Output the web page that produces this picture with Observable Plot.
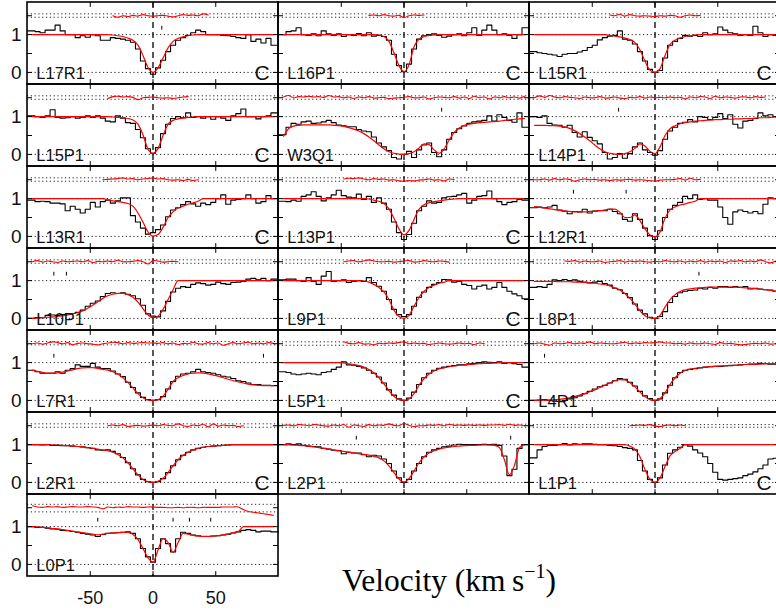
<!DOCTYPE html>
<html><head><meta charset="utf-8">
<script src="https://cdn.jsdelivr.net/npm/d3@7"></script>
<script src="https://cdn.jsdelivr.net/npm/@observablehq/plot@0.6"></script>
<style>
html,body{margin:0;padding:0;background:#fff;overflow:hidden;}
#wrap{position:relative;width:776px;height:612px;overflow:hidden;}
#xlabel{position:absolute;left:342px;top:563px;font-family:"Liberation Serif","DejaVu Serif",serif;font-size:31.5px;color:#000;white-space:nowrap;line-height:36px;}
#xlabel sup{font-size:20px;vertical-align:baseline;position:relative;top:-13px;}
</style></head>
<body><div id="wrap"><div id="chart"></div><div id="xlabel">Velocity (km&#8201;s<sup>−1</sup>)</div></div>
<script>
// ---------- panel layout & labels ----------
const panelNames = ["L17R1","L16P1","L15R1","L15P1","W3Q1","L14P1","L13R1","L13P1","L12R1","L10P1","L9P1","L8P1","L7R1","L5P1","L4R1","L2R1","L2P1","L1P1","L0P1"];
const panelHasC  = [1,1,1, 1,0,0, 1,1,0, 0,1,0, 0,1,0, 1,0,1, 0];
const velocityGrid = [-96,-92,-88,-84,-80,-76,-72,-68,-64,-60,-56,-52,-48,-44,-40,-36,-32,-28,-24,-20,-16,-12,-8,-4,0,4,8,12,16,20,24,28,32,36,40,44,48,52,56,60,64,68,72,76,80,84,88,92,96];
const xTickValues = [-50, 0, 50];
const xTickLabels = ["-50", "0", "50"];
const yTickValues = [0, 0.5, 1, 1.5];
const yTickLabelValues = [0, 1];
const yTickLabels = ["0", "1"];

// ---------- observed flux (black histogram) ----------
const flux_L17R1 = [1.10,1.08,1.05,1.12,1.12,1.25,1.10,1.00,1.00,0.92,0.97,0.93,1.00,0.97,0.85,0.85,0.92,0.90,0.88,0.85,0.80,0.62,0.30,0.10,-0.05,0.12,0.32,0.55,0.72,0.85,0.92,0.98,1.05,1.12,1.08,1.0,1.0,1.0,0.98,0.97,0.95,0.92,0.90,1.0,0.82,0.88,0.78,0.9,0.72];
const flux_L16P1 = [1.0,1.08,1.10,1.18,1.0,0.98,1.02,0.97,1.10,1.02,0.98,1.02,0.95,1.0,0.98,1.03,0.97,1.05,0.96,0.98,0.95,0.85,0.48,0.18,0.02,0.22,0.62,0.88,0.97,1.0,1.02,0.98,0.93,0.96,1.0,1.02,0.97,1.05,1.18,0.98,1.12,1.25,1.12,1.0,1.02,0.98,0.9,1.0,1.18];
const flux_L15R1 = [0.55,0.52,0.50,0.48,0.46,0.42,0.48,0.50,0.50,0.54,0.58,0.66,0.72,0.86,0.92,0.96,0.98,1.10,0.88,0.85,0.75,0.55,0.3,0.08,0.0,0.05,0.38,0.72,0.82,0.9,0.98,0.96,0.98,0.95,1.05,1.0,1.02,1.2,1.12,1.05,1.02,0.98,1.0,0.98,1.22,1.05,0.95,1.0,0.98];
const flux_L15P1 = [1.02,1.0,0.98,1.02,1.18,0.98,0.96,0.97,1.0,0.96,0.98,1.02,0.98,1.02,0.96,0.88,0.86,1.02,0.96,0.84,0.82,0.66,0.44,0.15,0.03,0.18,0.55,0.8,0.95,1.0,0.97,1.1,0.98,1.0,0.96,1.0,0.93,1.0,0.96,0.9,1.02,1.08,1.2,1.0,1.0,0.94,1.0,1.02,1.1];
const flux_W3Q1  = [0.52,0.72,0.82,0.8,0.86,0.88,0.82,0.83,0.86,0.9,0.84,0.78,0.76,0.73,0.73,0.66,0.62,0.6,0.46,0.3,0.2,0.1,-0.08,-0.12,0.0,0.08,-0.08,0.12,0.25,0.3,0.05,-0.06,0.12,0.4,0.58,0.68,0.75,0.82,0.86,0.88,0.9,1.02,0.88,1.05,0.98,0.9,0.85,1.1,0.72];
const flux_L14P1 = [1.0,0.98,1.02,0.82,0.78,0.77,0.72,0.77,0.58,0.46,0.6,0.45,0.36,0.28,0.05,-0.12,-0.08,0.02,-0.1,0.02,0.2,0.3,0.12,0.05,-0.02,0.1,0.4,0.62,0.72,0.82,0.85,0.92,0.86,1.0,0.98,0.92,0.98,1.08,0.95,1.05,0.8,0.7,0.88,0.9,0.95,1.1,1.02,1.05,1.0];
const flux_L13R1 = [0.96,0.92,0.93,0.92,0.88,0.88,0.86,0.68,0.8,0.72,0.62,0.72,0.9,0.78,0.92,0.96,0.88,0.94,1.02,1.02,0.55,0.38,0.22,0.06,0.1,0.18,0.3,0.52,0.7,0.76,0.84,0.92,0.86,0.8,0.88,0.84,0.9,1.0,1.1,0.85,0.96,0.98,1.0,1.1,1.0,0.88,0.92,1.08,1.0];
const flux_L13P1 = [0.93,0.92,0.96,0.93,1.06,1.1,1.18,1.06,0.94,1.02,1.1,1.22,1.08,1.04,1.02,1.12,0.98,1.06,0.9,1.02,0.88,0.72,0.38,0.1,-0.08,0.05,0.35,0.68,0.8,0.94,0.88,0.9,1.02,1.05,1.06,1.1,1.14,0.88,0.96,1.06,1.08,1.2,1.0,0.92,0.84,0.9,0.92,0.98,0.96];
const flux_L12R1 = [0.76,0.78,0.76,0.78,0.82,0.7,0.67,0.6,0.66,0.65,0.72,0.62,0.67,0.68,0.68,0.72,0.66,0.6,0.45,0.4,0.6,0.45,0.22,0.02,-0.08,0.15,0.5,0.72,0.82,0.9,1.06,1.0,1.1,0.98,1.0,0.96,0.96,0.78,0.5,0.32,0.65,0.7,0.66,0.62,0.66,0.6,0.85,1.02,1.0];
const flux_L10P1 = [0.0,0.02,0.02,0.08,0.09,0.08,0.1,0.12,0.13,0.16,0.22,0.32,0.4,0.46,0.58,0.66,0.68,0.66,0.68,0.64,0.6,0.52,0.35,0.12,0.06,0.04,0.2,0.45,0.7,0.8,0.84,0.82,0.9,0.94,0.92,0.88,0.9,0.96,0.92,0.9,0.95,0.96,0.98,1.04,1.06,1.02,1.06,1.0,1.04];
const flux_L9P1  = [1.02,1.04,1.04,1.0,0.98,1.08,0.98,0.9,1.12,1.24,0.98,1.0,1.02,0.95,0.98,1.0,0.98,1.08,0.95,0.85,0.72,0.5,0.24,0.1,0.05,0.1,0.32,0.56,0.7,0.82,0.9,0.95,1.03,1.02,0.96,0.98,0.9,0.87,0.78,0.85,0.88,0.78,0.82,0.95,0.82,0.72,0.65,0.6,0.52];
const flux_L8P1  = [0.82,0.84,0.82,0.9,1.02,1.0,1.03,1.0,1.02,0.98,0.96,0.94,0.96,0.98,0.92,0.88,0.8,0.76,0.66,0.55,0.38,0.22,0.12,0.03,0.0,0.05,0.18,0.42,0.58,0.68,0.72,0.74,0.75,0.8,0.78,0.82,0.8,0.84,0.84,0.82,0.84,0.82,0.84,0.78,0.8,0.78,0.76,0.75,0.72];
const flux_L7R1  = [0.8,0.76,0.72,0.72,0.72,0.76,0.72,0.8,0.84,0.94,0.9,0.9,0.98,0.88,0.84,0.84,0.78,0.7,0.63,0.48,0.34,0.2,0.08,0.02,0.0,0.02,0.1,0.3,0.5,0.64,0.7,0.72,0.76,0.82,0.76,0.74,0.72,0.68,0.64,0.62,0.58,0.52,0.5,0.46,0.42,0.42,0.4,0.4,0.39];
const flux_L5P1  = [0.76,0.74,0.7,0.68,0.7,0.72,0.7,0.68,0.74,0.76,0.82,0.88,1.02,0.94,0.93,0.9,0.86,0.8,0.72,0.62,0.46,0.28,0.14,0.04,0.0,0.06,0.22,0.42,0.6,0.72,0.8,0.85,0.88,0.9,0.92,0.94,0.94,0.97,0.98,1.0,1.02,1.01,1.0,1.02,0.98,1.0,0.97,0.95,0.88];
const flux_L4R1  = [0.0,0.01,0.02,0.0,-0.02,-0.03,0.0,0.04,0.07,0.12,0.18,0.24,0.3,0.36,0.4,0.46,0.52,0.58,0.56,0.48,0.38,0.24,0.12,0.05,0.0,0.04,0.2,0.4,0.6,0.74,0.8,0.82,0.84,0.86,0.88,0.89,0.9,0.9,0.91,0.92,0.93,0.94,0.95,0.96,0.96,0.98,0.97,0.96,0.96];
const flux_L2R1  = [1.0,1.0,0.99,1.0,0.98,0.98,0.97,0.97,0.96,0.95,0.94,0.92,0.9,0.86,0.85,0.86,0.82,0.76,0.66,0.52,0.36,0.2,0.08,0.02,0.0,0.02,0.1,0.26,0.44,0.6,0.72,0.8,0.86,0.9,0.93,0.95,0.96,0.97,0.98,0.99,1.0,1.0,1.0,1.0,1.0,1.0,1.0,1.0,1.0];
const flux_L2P1  = [1.0,1.02,1.0,1.02,0.98,0.96,0.95,0.94,0.9,0.88,0.85,0.84,0.76,0.8,0.78,0.78,0.73,0.68,0.72,0.7,0.62,0.5,0.3,0.12,0.0,0.08,0.3,0.5,0.68,0.8,0.86,0.9,0.94,0.96,0.99,1.01,1.0,1.0,1.0,1.0,1.01,1.0,1.01,0.98,0.7,0.18,0.35,0.9,1.0];
const flux_L1P1  = [0.65,0.86,0.95,0.98,0.98,1.0,1.03,0.99,1.02,1.01,1.02,1.02,1.01,1.0,1.0,0.98,0.97,0.95,0.92,0.9,0.86,0.58,0.3,0.08,0.0,0.12,0.46,0.77,0.86,0.93,1.0,0.96,0.86,0.78,0.68,0.5,0.27,0.08,0.06,0.08,0.1,0.12,0.18,0.22,0.28,0.36,0.46,0.62,0.64];
const flux_L0P1  = [1.0,0.98,0.98,0.96,0.94,0.93,0.9,0.89,0.87,0.85,0.82,0.8,0.78,0.74,0.79,0.82,0.83,0.84,0.85,0.86,0.82,0.68,0.42,0.2,0.06,0.42,0.68,0.55,0.33,0.68,0.85,0.82,0.78,0.76,0.74,0.74,0.75,0.76,0.78,0.8,0.83,0.86,0.9,0.92,0.9,0.86,0.88,0.88,0.86];

// ---------- fitted model (red) ----------
const model_L17R1 = [1,1,1,1,1,1,1,1,1,1,1,1,1,1,1,1,0.99,0.97,0.95,0.91,0.85,0.72,0.45,0.13,0,0.12,0.38,0.65,0.82,0.9,0.94,0.97,0.99,1,1,1,1,1,1,1,1,1,1,1,1,1,1,1,1];
const model_L16P1 = [1,1,1,1,1,1,1,1,1,1,1,1,1,1,1,1,1,1,1,0.99,0.95,0.82,0.52,0.18,0.02,0.2,0.68,0.88,0.95,0.98,0.99,1,1,1,1,1,1,1,1,1,1,1,1,1,1,1,1,1,1];
const model_L15R1 = [1,1,1,1,1,1,1,1,1,1,1,1,1,1,1,0.98,0.96,0.94,0.91,0.87,0.79,0.6,0.3,0.06,0,0.1,0.45,0.74,0.85,0.91,0.95,0.97,0.99,1,1,1,1,1,1,1,1,1,1,1,1,1,1,1,1];
const model_L15P1 = [1,1,1,1,1,1,1,1,1,1,1,1,1,1,1,1,0.99,0.98,0.97,0.95,0.91,0.8,0.52,0.14,0.03,0.16,0.5,0.8,0.9,0.94,0.96,0.98,0.99,1,1,1,1,1,1,1,1,1,1,1,1,1,1,1,1];
const model_W3Q1  = [0.48,0.68,0.75,0.77,0.78,0.78,0.78,0.78,0.78,0.78,0.77,0.76,0.74,0.71,0.67,0.62,0.55,0.46,0.36,0.25,0.15,0.07,0.03,0.01,0,0.02,0.07,0.17,0.28,0.26,0.12,0.03,0.15,0.38,0.58,0.7,0.77,0.8,0.82,0.84,0.85,0.86,0.87,0.88,0.9,0.91,0.93,0.94,0.95];
const model_L14P1 = [0.77,0.77,0.77,0.76,0.76,0.75,0.73,0.69,0.63,0.55,0.46,0.36,0.25,0.15,0.07,0.03,0.01,0,0.02,0.07,0.16,0.28,0.22,0.08,0.02,0.2,0.5,0.68,0.76,0.81,0.84,0.86,0.88,0.89,0.9,0.91,0.92,0.92,0.93,0.93,0.94,0.94,0.95,0.95,0.96,0.97,0.97,0.98,0.99];
const model_L13R1 = [1,1,1,1,1,1,1,1,1,1,1,1,1,1,1,0.97,0.94,0.92,0.9,0.87,0.8,0.62,0.38,0.12,0.01,0.05,0.24,0.5,0.65,0.75,0.8,0.85,0.89,0.93,1,1,1,1,1,1,1,1,1,1,1,1,1,1,1];
const model_L13P1 = [1,1,1,1,1,1,1,1,1,1,1,1,1,1,1,1,1,0.99,0.96,0.93,0.87,0.73,0.48,0.2,0.04,0.16,0.45,0.72,0.84,0.89,0.92,0.94,0.96,0.98,0.99,1,1,1,1,1,1,1,1,1,1,1,1,1,1];
const model_L12R1 = [0.79,0.77,0.75,0.73,0.71,0.69,0.67,0.66,0.65,0.65,0.65,0.66,0.67,0.68,0.7,0.72,0.72,0.64,0.5,0.5,0.57,0.42,0.2,0.04,-0.01,0.12,0.48,0.7,0.78,0.83,0.86,0.9,0.93,1,1,1,1,1,1,1,1,1,1,1,1,1,1,1,1];
const model_L10P1 = [0,0.01,0.02,0.03,0.04,0.05,0.07,0.09,0.12,0.15,0.2,0.27,0.35,0.44,0.53,0.6,0.64,0.66,0.66,0.63,0.56,0.43,0.26,0.09,0.02,0.06,0.24,0.5,0.76,1,1,1,1,1,1,1,1,1,1,1,1,1,1,1,1,1,1,1,1];
const model_L9P1  = [1,1,1,1,1,1,1,1,1,1,1,1,1,1,1,1,0.99,0.96,0.9,0.82,0.7,0.5,0.22,0.05,0,0.08,0.32,0.56,0.72,0.82,0.88,0.93,0.96,1,1,1,1,1,1,1,1,1,1,1,1,1,1,1,1];
const model_L8P1  = [0.98,0.98,0.98,0.98,0.98,0.97,0.97,0.97,0.96,0.96,0.95,0.94,0.93,0.91,0.89,0.86,0.81,0.75,0.66,0.53,0.38,0.2,0.07,0.01,0,0.08,0.3,0.5,0.63,0.71,0.76,0.78,0.8,0.81,0.82,0.83,0.83,0.83,0.83,0.83,0.83,0.82,0.81,0.8,0.79,0.77,0.76,0.74,0.72];
const model_L7R1  = [0.8,0.77,0.74,0.72,0.72,0.73,0.75,0.78,0.81,0.84,0.86,0.87,0.87,0.85,0.82,0.8,0.76,0.7,0.6,0.47,0.33,0.18,0.07,0.01,0,0.02,0.11,0.3,0.5,0.6,0.66,0.7,0.72,0.73,0.72,0.7,0.67,0.64,0.6,0.56,0.52,0.49,0.46,0.43,0.41,0.4,0.39,0.39,0.39];
const model_L5P1  = [1,1,1,1,1,1,1,1,1,1,1,1,0.99,0.97,0.95,0.92,0.88,0.82,0.73,0.6,0.44,0.26,0.11,0.02,0,0.04,0.18,0.4,0.58,0.7,0.78,0.83,0.86,0.89,0.91,0.93,0.94,0.95,0.96,0.97,0.98,0.98,0.99,0.99,1,1,1,1,1];
const model_L4R1  = [0,0,0.01,0.01,0.02,0.03,0.05,0.07,0.1,0.14,0.18,0.23,0.28,0.34,0.4,0.46,0.52,0.55,0.54,0.47,0.36,0.22,0.1,0.02,0,0.05,0.2,0.42,0.6,0.72,0.79,0.83,0.85,0.87,0.88,0.89,0.9,0.91,0.92,0.93,0.93,0.94,0.95,0.95,0.96,0.96,0.97,0.97,0.97];
const model_L2R1  = [1,1,1,1,0.99,0.99,0.98,0.97,0.96,0.95,0.94,0.92,0.9,0.88,0.86,0.84,0.8,0.74,0.65,0.52,0.36,0.2,0.08,0.02,0,0.03,0.11,0.26,0.44,0.6,0.72,0.8,0.86,0.9,0.93,0.95,0.96,0.97,0.98,0.99,1,1,1,1,1,1,1,1,1];
const model_L2P1  = [1,0.99,0.99,0.98,0.97,0.96,0.94,0.92,0.9,0.88,0.86,0.84,0.82,0.8,0.78,0.76,0.74,0.72,0.69,0.65,0.57,0.44,0.26,0.09,0.01,0.1,0.3,0.52,0.68,0.78,0.84,0.88,0.91,0.93,0.95,0.96,0.97,0.98,0.98,0.99,0.99,0.99,0.98,0.92,0.6,0.2,0.45,0.92,1];
const model_L1P1  = [1,1,1,1,1,1,1,1,1,1,1,1,1,1,1,1,1,1,1,0.96,0.88,0.68,0.34,0.08,0,0.12,0.42,0.7,0.82,0.9,1,1,1,1,1,1,1,1,1,1,1,1,1,1,1,1,1,1,1];
const model_L0P1  = [1,0.99,0.98,0.97,0.95,0.94,0.92,0.9,0.88,0.86,0.84,0.82,0.8,0.78,0.8,0.82,0.83,0.84,0.85,0.85,0.8,0.66,0.42,0.18,0.06,0.38,0.68,0.58,0.32,0.58,0.82,0.8,0.77,0.75,0.74,0.74,0.75,0.76,0.78,0.81,0.84,0.87,1,1,1,1,1,1,1];

// ---------- residuals (red, offset to 1.5), 4 km/s spacing from residStart ----------
const residStart = [-32,-28,-36,-36,-96,-96,-40,-48,-96,-96,-48,-72,-96,-48,-96,-36,-96,-20,-96];
const resid_L17R1 = [1.5,1.46,1.5,1.48,1.51,1.49,1.53,1.5,1.49,1.5,1.51,1.49,1.47,1.5,1.53,1.51,1.52,1.5,1.55,1.52];
const resid_L16P1 = [1.51,1.52,1.5,1.53,1.5,1.49,1.51,1.45,1.5,1.52,1.51,1.52];
const resid_L15R1 = [1.52,1.5,1.54,1.49,1.53,1.5,1.49,1.5,1.49,1.48,1.5,1.49,1.51,1.5,1.46,1.5,1.52,1.5,1.51];
const resid_L15P1 = [1.48,1.53,1.54,1.52,1.53,1.51,1.45,1.5,1.51,1.52,1.5,1.49,1.5,1.48,1.5,1.52,1.53];
const resid_W3Q1  = [1.52,1.56,1.5,1.53,1.52,1.54,1.52,1.53,1.51,1.56,1.52,1.53,1.5,1.52,1.48,1.52,1.5,1.53,1.49,1.5,1.51,1.48,1.49,1.5,1.51,1.53,1.5,1.5,1.52,1.47,1.5,1.52,1.51,1.5,1.53,1.49,1.52,1.48,1.54,1.5,1.52,1.47,1.52,1.5,1.53,1.5,1.52,1.49,1.54];
const resid_L14P1 = [1.5,1.55,1.51,1.56,1.52,1.5,1.53,1.51,1.5,1.48,1.52,1.5,1.5,1.53,1.49,1.5,1.52,1.49,1.48,1.51,1.5,1.53,1.49,1.52,1.5,1.51,1.5,1.52,1.5,1.51,1.47,1.52,1.5,1.53,1.52,1.48,1.54,1.5,1.52,1.51,1.49,1.52,1.52,1.5,1.53,1.51,1.52];
const resid_L13R1 = [1.5,1.51,1.52,1.53,1.55,1.52,1.53,1.5,1.52,1.53,1.55,1.52,1.53,1.5,1.49,1.5,1.48,1.51,1.48,1.5];
const resid_L13P1 = [1.52,1.54,1.53,1.55,1.52,1.5,1.53,1.51,1.52,1.49,1.5,1.47,1.46,1.48,1.47,1.49,1.5,1.52,1.49,1.5,1.47,1.52,1.5];
const resid_L12R1 = [1.5,1.5,1.52,1.49,1.53,1.5,1.52,1.51,1.46,1.5,1.52,1.5,1.51,1.49,1.5,1.48,1.5,1.49,1.5,1.51,1.49,1.5,1.49,1.48,1.46,1.49,1.5,1.5,1.51,1.53,1.49,1.54,1.5,1.51];
const resid_L10P1 = [1.5,1.53,1.49,1.52,1.5,1.48,1.52,1.5,1.51,1.52,1.5,1.53,1.48,1.51,1.5,1.52,1.5,1.54,1.5,1.5,1.51,1.53,1.5,1.44,1.53,1.52,1.49,1.5,1.51,1.5];
const resid_L9P1  = [1.5,1.52,1.53,1.5,1.52,1.55,1.52,1.5,1.5,1.51,1.49,1.5,1.52,1.53,1.49,1.5,1.53,1.51,1.5,1.52,1.51,1.49];
const resid_L8P1  = [1.52,1.51,1.53,1.49,1.52,1.5,1.5,1.52,1.48,1.5,1.51,1.53,1.49,1.52,1.5,1.52,1.5,1.49,1.51,1.5,1.53,1.51,1.5,1.52,1.49,1.52,1.5,1.53,1.49,1.52,1.5,1.52,1.48,1.52,1.51,1.53,1.5,1.52,1.5,1.55,1.5,1.47,1.52];
const resid_L7R1  = [1.5,1.52,1.49,1.52,1.55,1.53,1.5,1.53,1.47,1.51,1.52,1.5,1.49,1.47,1.5,1.52,1.54,1.53,1.5,1.53,1.51,1.52,1.53,1.52,1.52,1.51,1.53,1.5,1.52,1.48,1.51,1.5,1.54,1.5,1.49,1.53,1.5,1.52,1.46,1.5,1.53,1.5,1.52,1.54,1.5,1.52,1.5,1.53,1.51];
const resid_L5P1  = [1.55,1.51,1.5,1.53,1.49,1.5,1.47,1.51,1.5,1.52,1.51,1.53,1.55,1.5,1.52,1.5,1.51,1.48,1.5,1.52,1.5,1.49,1.5,1.52,1.5,1.51,1.48,1.52,1.5];
const resid_L4R1  = [1.5,1.52,1.49,1.46,1.52,1.5,1.51,1.53,1.5,1.52,1.51,1.55,1.5,1.52,1.51,1.5,1.5,1.52,1.54,1.5,1.52,1.51,1.53,1.52,1.53,1.55,1.52,1.52,1.5,1.51,1.49,1.52,1.5,1.5,1.52,1.5,1.48,1.53,1.5,1.51,1.49,1.47,1.48,1.5,1.51,1.5,1.52,1.49,1.5];
const resid_L2R1  = [1.5,1.52,1.5,1.53,1.48,1.5,1.51,1.49,1.5,1.52,1.5,1.53,1.51,1.5,1.55,1.5,1.48,1.52,1.5,1.54,1.47,1.55,1.49,1.52,1.5,1.51,1.48,1.5];
const resid_L2P1  = [1.51,1.52,1.5,1.53,1.52,1.5,1.53,1.52,1.5,1.49,1.52,1.5,1.53,1.46,1.52,1.5,1.48,1.53,1.5,1.52,1.51,1.55,1.51,1.5,1.56,1.51,1.48,1.5,1.5,1.52,1.51,1.53,1.5,1.54,1.51,1.52,1.51,1.52,1.51,1.52,1.51,1.52,1.52,1.53,1.51,1.54,1.51,1.52,1.5];
const resid_L1P1  = [1.5,1.51,1.52,1.51,1.53,1.49,1.48,1.51,1.52,1.5,1.52,1.5];
const resid_L0P1  = [1.55,1.52,1.51,1.53,1.52,1.53,1.51,1.52,1.53,1.52,1.52,1.53,1.52,1.51,1.47,1.52,1.5,1.52,1.51,1.53,1.52,1.52,1.51,1.52,1.52,1.51,1.51,1.5,1.5,1.51,1.5,1.51,1.51,1.5,1.51,1.51,1.51,1.51,1.52,1.52,1.52,1.52,1.45,1.4,1.38,1.36,1.34,1.32,1.3];
// residual reference (dotted) levels per panel
const residLo = [1.46,1.46,1.46,1.46,1.46,1.46,1.46,1.46,1.46,1.46,1.46,1.46,1.47,1.46,1.46,1.46,1.46,1.46,1.39];
const residHi = [1.55,1.55,1.55,1.55,1.55,1.55,1.55,1.55,1.55,1.55,1.55,1.55,1.56,1.55,1.55,1.55,1.54,1.53,1.59];

// ---------- component markers ----------
const componentPanel = ["L17R1","W3Q1","L14P1","L12R1","L12R1","L10P1","L10P1","L8P1","L7R1","L7R1","L4R1","L2P1","L2P1","L0P1","L0P1","L0P1","L0P1"];
const componentVel   = [7,30,-29,-65,-23,-79,-69,35,-79,88,-88,-38,85,-44,16,29,46];

const fluxSeries  = [flux_L17R1,flux_L16P1,flux_L15R1,flux_L15P1,flux_W3Q1,flux_L14P1,flux_L13R1,flux_L13P1,flux_L12R1,flux_L10P1,flux_L9P1,flux_L8P1,flux_L7R1,flux_L5P1,flux_L4R1,flux_L2R1,flux_L2P1,flux_L1P1,flux_L0P1];
const modelSeries = [model_L17R1,model_L16P1,model_L15R1,model_L15P1,model_W3Q1,model_L14P1,model_L13R1,model_L13P1,model_L12R1,model_L10P1,model_L9P1,model_L8P1,model_L7R1,model_L5P1,model_L4R1,model_L2R1,model_L2P1,model_L1P1,model_L0P1];
const residSeries = [resid_L17R1,resid_L16P1,resid_L15R1,resid_L15P1,resid_W3Q1,resid_L14P1,resid_L13R1,resid_L13P1,resid_L12R1,resid_L10P1,resid_L9P1,resid_L8P1,resid_L7R1,resid_L5P1,resid_L4R1,resid_L2R1,resid_L2P1,resid_L1P1,resid_L0P1];

// ---------- build tables ----------
const XMIN = -100, XMAX = 100, YMIN = -0.32, YMAX = 1.85;
const panels = panelNames.map((name, i) => ({name, i, col: i % 3, row: Math.floor(i / 3)}));
const fluxRows = [];
panels.forEach(p => {
  const s = fluxSeries[p.i];
  s.forEach((f, k) => {
    const v = velocityGrid[k];
    const lo = k === 0 ? XMIN : v - 2;
    const hi = k === s.length - 1 ? XMAX : v + 2;
    fluxRows.push({...p, v: lo, f}, {...p, v: hi, f});
  });
});
const modelRows = panels.flatMap(p => modelSeries[p.i].map((f, k) => ({...p, v: velocityGrid[k], f})));
const residRows = panels.flatMap(p => residSeries[p.i].map((f, k) => ({...p, v: residStart[p.i] + 4 * k, f})));
const refRows = panels.flatMap(p => [0, 1, residLo[p.i], residHi[p.i]].map(y => ({...p, y})));
const zeroRows = panels.map(p => ({...p, v: 0}));
const frameRows = panels.map(p => ({...p, xa: XMIN, xb: XMAX, ya: YMIN, yb: YMAX}));
const tkx = 0.13, tky = 4;
const xTickRows = panels.flatMap(p => xTickValues.flatMap(v => [
  {...p, v, a: YMIN, b: YMIN + tkx}, {...p, v, a: YMAX - tkx, b: YMAX}]));
const yTickRows = panels.flatMap(p => yTickValues.flatMap(y => [
  {...p, y, a: XMIN, b: XMIN + tky}, {...p, y, a: XMAX - tky, b: XMAX}]));
const compRows = componentPanel.map((n, k) => {
  const p = panels[panelNames.indexOf(n)];
  return {...p, v: componentVel[k], a: 1.12, b: 1.22};
});
const labelRows = panels.map(p => ({...p, v: -93, y: -0.03}));
const cRows = panels.filter(p => panelHasC[p.i]).map(p => ({...p, v: 87, y: -0.02}));
const yLabelRows = panels.filter(p => p.col === 0).flatMap(p => yTickLabelValues.map((y, k) => ({...p, y, t: yTickLabels[k]})));
const bottom = panels[panels.length - 1];
const xLabelRows = xTickValues.map((v, k) => ({...bottom, v, y: YMIN, t: xTickLabels[k]}));

const F = {fx: "col", fy: "row"};
const RED = "#ff0000";
const chart = Plot.plot({
  width: 781, height: 612,
  marginLeft: 26, marginRight: 0, marginTop: 0, marginBottom: 34.5,
  x: {domain: [XMIN, XMAX], axis: null},
  y: {domain: [YMIN, YMAX], axis: null},
  fx: {domain: [0, 1, 2], padding: 0, axis: null},
  fy: {domain: [0, 1, 2, 3, 4, 5, 6], padding: 0, axis: null},
  style: {fontFamily: "'Liberation Sans', Arial, sans-serif", background: "white", color: "black"},
  marks: [
    Plot.ruleY(refRows, {y: "y", ...F, stroke: "#222", strokeWidth: 1, strokeDasharray: "1.2,2.6"}),
    Plot.ruleX(zeroRows, {x: "v", ...F, stroke: "black", strokeWidth: 1.3, strokeDasharray: "6,4"}),
    Plot.line(fluxRows, {x: "v", y: "f", z: "name", ...F, stroke: "black", strokeWidth: 1.1}),
    Plot.line(modelRows, {x: "v", y: "f", z: "name", ...F, stroke: RED, strokeWidth: 1.2, curve: "monotone-x"}),
    Plot.line(residRows, {x: "v", y: "f", z: "name", ...F, stroke: RED, strokeWidth: 1.1, curve: "catmull-rom"}),
    Plot.ruleX(compRows, {x: "v", y1: "a", y2: "b", ...F, stroke: "black", strokeWidth: 1}),
    Plot.ruleX(xTickRows, {x: "v", y1: "a", y2: "b", ...F, stroke: "black", strokeWidth: 1}),
    Plot.ruleY(yTickRows, {y: "y", x1: "a", x2: "b", ...F, stroke: "black", strokeWidth: 1}),
    Plot.rect(frameRows, {x1: "xa", x2: "xb", y1: "ya", y2: "yb", ...F, fill: "none", stroke: "black", strokeWidth: 1.6}),
    Plot.text(labelRows, {x: "v", y: "y", text: "name", ...F, textAnchor: "start", fontSize: 16.5, fill: "#111"}),
    Plot.text(cRows, {x: "v", y: "y", text: () => "C", ...F, fontSize: 21, fill: "#111"}),
    Plot.text(yLabelRows, {x: () => XMIN, y: "y", text: "t", ...F, textAnchor: "end", dx: -6, fontSize: 19, fill: "#111"}),
    Plot.text(xLabelRows, {x: "v", y: "y", text: "t", ...F, lineAnchor: "top", dy: 15, fontSize: 18, fill: "#111"})
  ]
});
chart.style.maxWidth = "none";
chart.style.display = "block";
document.getElementById("chart").appendChild(chart);
</script>
</body></html>
